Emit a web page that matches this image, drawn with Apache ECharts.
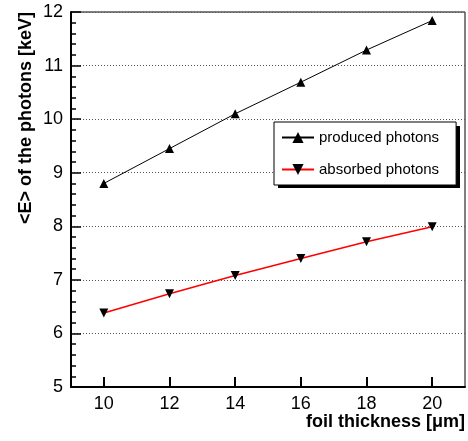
<!DOCTYPE html>
<html>
<head>
<meta charset="utf-8">
<script src="https://cdn.jsdelivr.net/npm/echarts@6/dist/echarts.min.js"></script>
<style>html,body{margin:0;padding:0;background:#fff;}#c{width:468px;height:441px;}</style>
</head>
<body>
<div id="c"></div>
<script>
const thickness = [10, 12, 14, 16, 18, 20];
const produced = [8.80, 9.45, 10.10, 10.69, 11.29, 11.84];
const absorbed = [6.38, 6.74, 7.08, 7.40, 7.71, 7.99];
const xTicks = [10, 12, 14, 16, 18, 20];
const seriesNames = ['produced photons', 'absorbed photons'];
const xTitle = 'foil thickness [\u03bcm]';
const yTitle = '<E> of the photons [keV]';

const font = 'Liberation Sans, Arial, Helvetica, sans-serif';
const chart = echarts.init(document.getElementById('c'), null, {renderer: 'canvas'});
chart.setOption({
  animation: false,
  backgroundColor: '#fff',
  grid: {left: 71, top: 12, right: 3, bottom: 54, show: true, borderColor: '#000', borderWidth: 1},
  xAxis: {
    type: 'value', min: 9, max: 21,
    axisLine: {show: true, onZero: false, lineStyle: {color: '#000', width: 2}},
    axisTick: {show: true, inside: true, length: 10, customValues: xTicks, lineStyle: {color: '#000', width: 2}},
    axisLabel: {customValues: xTicks, color: '#000', fontSize: 18, fontFamily: font, margin: 8},
    splitLine: {show: false}
  },
  yAxis: {
    type: 'value', min: 5, max: 12, interval: 1,
    axisLine: {show: true, onZero: false, lineStyle: {color: '#000', width: 2}},
    axisTick: {show: true, inside: true, length: 10, lineStyle: {color: '#000', width: 1.5}},
    minorTick: {show: true, splitNumber: 5, length: 5, lineStyle: {color: '#000', width: 1.5}},
    axisLabel: {color: '#000', fontSize: 18, fontFamily: font, margin: 8},
    splitLine: {show: true, lineStyle: {color: '#555', width: 1, type: [1, 2]}}
  },
  legend: {
    orient: 'vertical', left: 274, top: 122, z: 10,
    data: seriesNames,
    backgroundColor: '#fff', borderColor: '#000', borderWidth: 1,
    padding: [8, 17, 8, 7],
    itemWidth: 32, itemHeight: 14, itemGap: 17,
    textStyle: {color: '#000', fontSize: 15, fontFamily: font}
  },
  graphic: [
    {type: 'rect', left: 278, top: 126, z: 5, shape: {width: 182, height: 62}, style: {fill: '#000'}},
    {type: 'text', right: 3, top: 413, style: {text: xTitle, fill: '#000', font: 'bold 18px ' + font}},
    {type: 'text', x: 26, y: 12, rotation: Math.PI / 2,
     style: {text: yTitle, fill: '#000', font: 'bold 18px ' + font, align: 'right', verticalAlign: 'middle'}}
  ],
  series: [
    {
      name: seriesNames[0], type: 'line',
      data: thickness.map((t, i) => [t, produced[i]]),
      symbol: 'triangle', symbolSize: 9, showAllSymbol: true,
      itemStyle: {color: '#000'},
      lineStyle: {color: '#000', width: 1}
    },
    {
      name: seriesNames[1], type: 'line',
      data: thickness.map((t, i) => [t, absorbed[i]]),
      symbol: 'triangle', symbolRotate: 180, symbolSize: 9, showAllSymbol: true,
      itemStyle: {color: '#000'},
      lineStyle: {color: '#ff0000', width: 1.5}
    }
  ]
});
</script>
</body>
</html>
